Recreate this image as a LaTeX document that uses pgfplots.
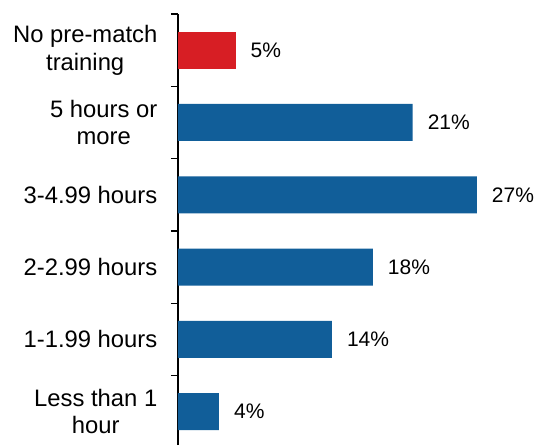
\documentclass[border=0pt]{standalone}
\usepackage{pgfplots}
\pgfplotsset{compat=1.18}
\usepackage{fontspec}
\setmainfont{Liberation Sans}
\definecolor{barblue}{RGB}{17,94,153}
\definecolor{barred}{RGB}{215,30,36}
\begin{document}
\begin{tikzpicture}
\begin{axis}[
  scale only axis,
  width=332pt, height=431pt,
  xmin=0, xmax=30,
  ymin=-0.46, ymax=5.5,
  hide x axis,
  axis y line*=left,
  y axis line style={line width=1.4pt, black},
  xbar, bar width=37pt,
  ytick={0,1,2,3,4,5},
  yticklabels={{Less than 1\\hour},{1-1.99 hours},{2-2.99 hours},{3-4.99 hours},{5 hours or\\more},{No pre-match\\training}},
  major tick length=0pt,
  minor ytick={0.5,1.5,2.5,3.5,4.5,5.5},
  minor tick length=7pt,
  tick align=outside,
  minor tick style={line width=1.4pt, black},
  yticklabel style={font=\fontsize{23.8}{27.5}\selectfont, align=center, inner sep=0pt, xshift=-20.5pt},
  /pgf/number format/assume math mode=true,
  nodes near coords={\pgfmathprintnumber[fixed,precision=0]{\pgfplotspointmeta}\%},
  nodes near coords style={font=\fontsize{21}{24}\selectfont, anchor=west, inner sep=0pt, xshift=15pt, black},
  clip=false,
]
\addplot[fill=barred, draw=none, bar shift=0pt] coordinates {(5.2,5)};
\addplot[fill=barblue, draw=none, bar shift=0pt] coordinates {(3.7,0) (13.9,1) (17.6,2) (27.0,3) (21.2,4)};
\coordinate (BL) at (rel axis cs:0,0);
\end{axis}
\pgfresetboundingbox
\path ([xshift=-178pt]BL) rectangle ([xshift=358pt,yshift=445pt]BL);
\end{tikzpicture}
\end{document}
